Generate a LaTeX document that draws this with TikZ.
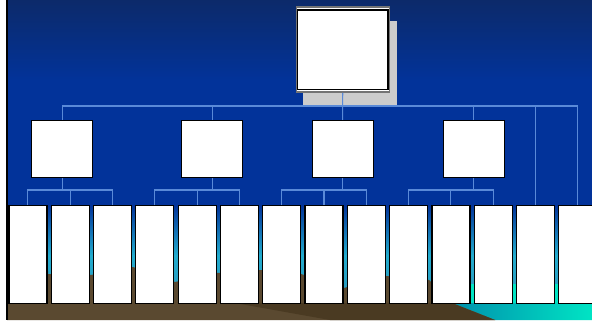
\documentclass[tikz,border=0pt]{standalone}
\definecolor{linkblue}{HTML}{5A8AD8}
\definecolor{skytop}{HTML}{0C2A6A}
\definecolor{skyblue}{HTML}{02339A}
\definecolor{skycyan}{HTML}{22ACCE}
\definecolor{skycyan2}{HTML}{2A9CC0}
\definecolor{ground}{HTML}{5A4930}
\definecolor{grounddark}{HTML}{4A3A22}
\definecolor{waterbright}{HTML}{00E4C4}
\definecolor{waterdark}{HTML}{0090AC}
\definecolor{shadowgray}{HTML}{CCCCCC}
\begin{document}
\begin{tikzpicture}[x=0.5pt,y=-0.5pt,
  conn/.style={draw=linkblue, line width=0.55pt},
  leaf/.style={draw=black, fill=white, line width=0.6pt, minimum width=19pt, minimum height=49pt, inner sep=0pt, anchor=north west},
  midbox/.style={draw=black, fill=white, line width=0.6pt, minimum width=30.5pt, minimum height=28.5pt, inner sep=0pt, anchor=north west},
  topbox/.style={draw=black!55, fill=white, line width=0.7pt, minimum width=46.5pt, minimum height=42.5pt, inner sep=0pt, anchor=north west}]
\useasboundingbox (0,0) rectangle (592,320);
\clip (0,0) rectangle (592,320);
% background
\fill[white] (0,0) rectangle (592,320);
\shade[top color=skytop, bottom color=skyblue] (7,0) rectangle (592,81);
\fill[skyblue] (7,80) rectangle (592,206);
\shade[top color=skyblue, bottom color=skycyan] (7,205) rectangle (592,256);
\shade[top color=skycyan, bottom color=skycyan2] (7,255) rectangle (592,290);
% water
\fill[waterbright] (430,284) rectangle (592,320);
\shade[left color=waterdark, right color=waterbright] (452,303) -- (592,303) -- (592,320) -- (495,320) -- cycle;
% ground
\fill[ground] (7,271) -- (48,271) -- (48,274) -- (91,275) -- (133,267) -- (175,282) -- (217,273) -- (260,270) -- (301,274) -- (344,288) -- (386,276) -- (429,280) -- (452,303) -- (495,320) -- (7,320) -- cycle;
\fill[grounddark] (235,303) -- (452,303) -- (495,320) -- (330,320) -- cycle;
% left edge
\fill[black] (5.5,0) rectangle (7.5,320);
% shadow of top box
\fill[shadowgray] (303,21) rectangle (397,105);
% boxes
\node[topbox] (top) at (295.5,6.5) {};
\draw[black, line width=0.6pt] ([shift={(2,3.5)}]top.north west) rectangle ([shift={(-2,-3)}]top.south east);
\node[midbox] (m1) at (31,120) {};
\node[midbox] (m2) at (181,120) {};
\node[midbox] (m3) at (311.5,120) {};
\node[midbox] (m4) at (442.5,120) {};
\foreach \i in {1,...,14}
  \node[leaf] (b\i) at ({8.3+42.3*(\i-1)},205) {};
% connectors
\coordinate (hbus) at (0,106);
\coordinate (gbus) at (0,190);
\draw[conn] (m1.north) -- (m1.north |- hbus) -- (b14.north |- hbus) -- (b14.north);
\draw[conn] (top.south) -- (m3.north);
\draw[conn] (m2.north) -- (m2.north |- hbus);
\draw[conn] (m4.north) -- (m4.north |- hbus);
\draw[conn] (b13.north) -- (b13.north |- hbus);
\foreach \m/\a/\b/\c in {1/1/2/3, 2/4/5/6, 3/7/8/9, 4/10/11/12} {
  \draw[conn] (m\m.south) -- (m\m.south |- gbus);
  \draw[conn] (b\a.north) -- (b\a.north |- gbus) -- (b\c.north |- gbus) -- (b\c.north);
  \draw[conn] (b\b.north) -- (b\b.north |- gbus);
}
\end{tikzpicture}
\end{document}
